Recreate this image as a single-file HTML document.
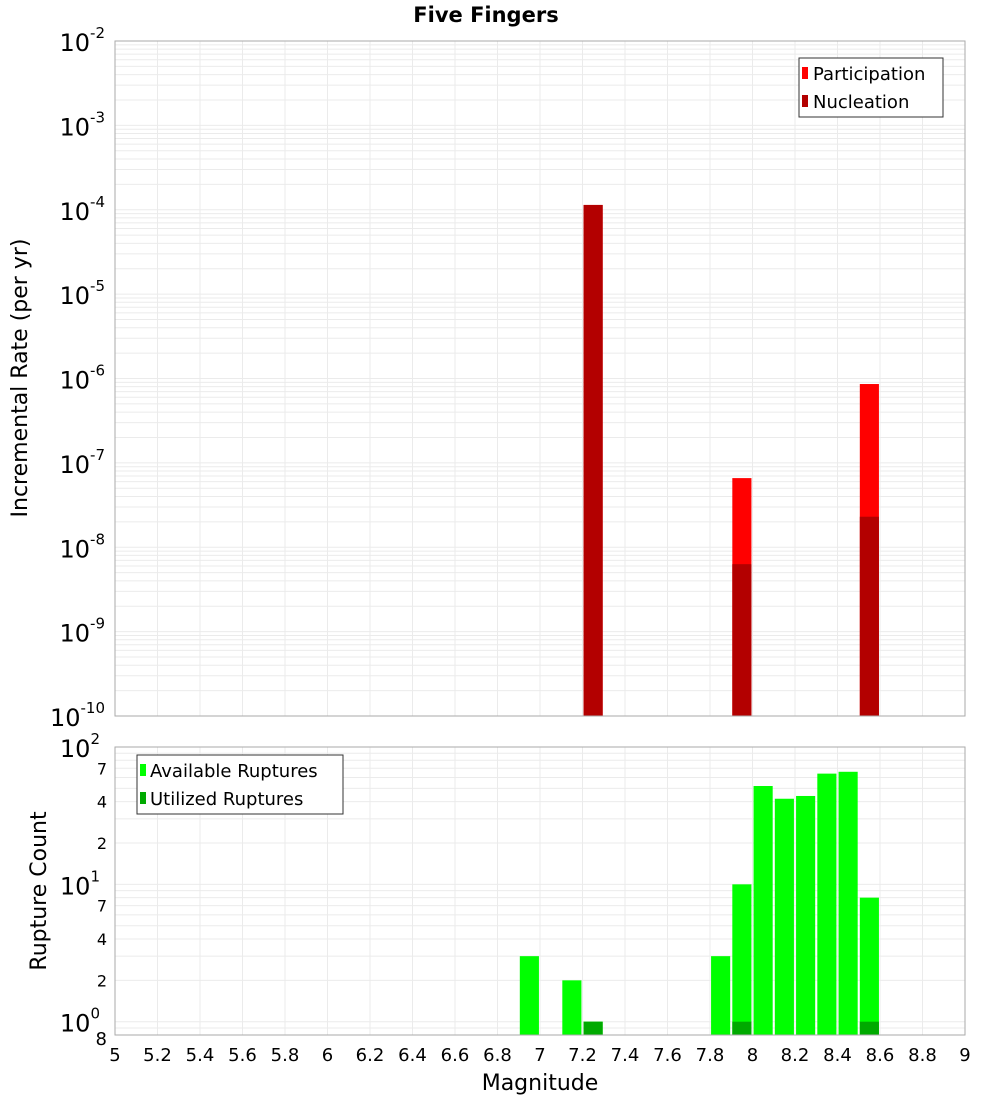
<!DOCTYPE html>
<html><head><meta charset="utf-8"><style>
body{margin:0;background:#fff}
svg{font-family:"DejaVu Sans","Liberation Sans",sans-serif}
</style></head><body>
<svg id="c" width="1000" height="1100" xmlns="http://www.w3.org/2000/svg">
<text x="486" y="22" text-anchor="middle" font-size="21" font-weight="bold">Five Fingers</text>
<g id="grid"></g><g id="bars"></g><g id="axes"></g>
<text transform="translate(27,378) rotate(-90)" text-anchor="middle" font-size="22">Incremental Rate (per yr)</text>
<text transform="translate(46,891) rotate(-90)" text-anchor="middle" font-size="22">Rupture Count</text>
<text x="540" y="1090" text-anchor="middle" font-size="22">Magnitude</text>
<g>
<rect x="799" y="58" width="144" height="59" fill="#fff" stroke="#333"/>
<rect x="802" y="67" width="6" height="12" fill="#ff0000"/>
<text x="813" y="80" font-size="18">Participation</text>
<rect x="802" y="95" width="6" height="12" fill="#b30000"/>
<text x="813" y="108" font-size="18">Nucleation</text>
</g>
<g>
<rect x="137" y="755" width="206" height="59" fill="#fff" stroke="#333"/>
<rect x="140" y="764" width="6" height="12" fill="#00ff00"/>
<text x="150" y="777" font-size="18">Available Ruptures</text>
<rect x="140" y="792" width="6" height="12" fill="#00aa00"/>
<text x="150" y="805" font-size="18">Utilized Ruptures</text>
</g>
</svg>
<script>
const rateMags=[7.25,7.95,8.55];
const participation=[1.14e-4,6.6e-8,8.6e-7];
const nucleation=[1.14e-4,6.3e-9,2.3e-8];
const countMags=[6.95,7.15,7.25,7.85,7.95,8.05,8.15,8.25,8.35,8.45,8.55];
const available=[3,2,1,3,10,52,42,44,64,66,8];
const utilized=[0,0,1,0,1,0,0,0,0,0,1];
const xTicks=["5","5.2","5.4","5.6","5.8","6","6.2","6.4","6.6","6.8","7","7.2","7.4","7.6","7.8","8","8.2","8.4","8.6","8.8","9"];
const topExps=[-2,-3,-4,-5,-6,-7,-8,-9,-10];
const botLabels=[[100,"2"],[10,"1"],[1,"0"]];
const botMinor=[2,4,7];

const NS="http://www.w3.org/2000/svg";
const L=115,R=965,T1=41,B1=716,T2=747,B2=1035;
const x=m=>L+(m-5)/4*(R-L);
const yTop=v=>T1+(-2-Math.log10(v))/8*(B1-T1);
const yBot=v=>T2+(2-Math.log10(v))/Math.log10(100/0.8)*(B2-T2);
function el(tag,attrs,parent,txt){const e=document.createElementNS(NS,tag);for(const k in attrs)e.setAttribute(k,attrs[k]);if(txt!==undefined)e.textContent=txt;document.getElementById(parent).appendChild(e);return e;}

// grids
for(const t of xTicks){const xx=x(+t);
 let g=el('line',{x1:xx,x2:xx,y1:T1,y2:B1,stroke:'#ebebeb'},'grid');
 
 
 g=el('line',{x1:xx,x2:xx,y1:T2,y2:B2,stroke:'#ebebeb'},'grid');
 
 
 const tl=el('text',{x:xx,y:1061,'text-anchor':'middle','font-size':18},'axes',t);
 
 
}
for(let e=-10;e<-2;e++)for(let k=1;k<10;k++){const yy=yTop(k*Math.pow(10,e));
 const g=el('line',{x1:L,x2:R,y1:yy,y2:yy,stroke:'#ebebeb'},'grid');
 
 }
for(let e=-1;e<2;e++)for(let k=1;k<10;k++){const v=k*Math.pow(10,e);if(v<0.8)continue;const yy=yBot(v);
 const g=el('line',{x1:L,x2:R,y1:yy,y2:yy,stroke:'#ebebeb'},'grid');
 
 }

// top bars
rateMags.forEach((m,i)=>{const x0=x(m-0.045),w=x(m+0.045)-x0;
 let b=el('rect',{x:x0,y:yTop(participation[i]),width:w,height:B1-yTop(participation[i]),fill:'#ff0000'},'bars');
 
 
 b=el('rect',{x:x0,y:yTop(nucleation[i]),width:w,height:B1-yTop(nucleation[i]),fill:'#b30000'},'bars');
 
 
});
// bottom bars
countMags.forEach((m,i)=>{const x0=x(m-0.045),w=x(m+0.045)-x0;
 if(available[i]>0){const b=el('rect',{x:x0,y:yBot(available[i]),width:w,height:B2-yBot(available[i]),fill:'#00ff00'},'bars');
 
 }
 if(utilized[i]>0){const b=el('rect',{x:x0,y:yBot(utilized[i]),width:w,height:B2-yBot(utilized[i]),fill:'#00aa00'},'bars');
 
 }
});

// frames
el('rect',{x:L,y:T1,width:R-L,height:B1-T1,fill:'none',stroke:'#aaa'},'axes');
el('rect',{x:L,y:T2,width:R-L,height:B2-T2,fill:'none',stroke:'#aaa'},'axes');

// y labels top
for(const e of topExps){const yy=yTop(Math.pow(10,e));
 const t=el('text',{x:105,y:yy+10,'text-anchor':'end','font-size':24},'axes');
 
 
 t.innerHTML='10<tspan dy="-13" font-size="15">'+e+'</tspan>';}
for(const [v,s] of botLabels){const yy=yBot(v);
 const t=el('text',{x:100,y:yy+10,'text-anchor':'end','font-size':24},'axes');
 
 
 t.innerHTML='10<tspan dy="-13" font-size="15">'+s+'</tspan>';}
for(const d of [1,10])for(const k of botMinor){const yy=yBot(k*d);
 const t=el('text',{x:107,y:yy+6,'text-anchor':'end','font-size':16},'axes',String(k));
 
 }
{const t=el('text',{x:107,y:B2+10,'text-anchor':'end','font-size':18},'axes','8');
 
 }
</script>
</body></html>
